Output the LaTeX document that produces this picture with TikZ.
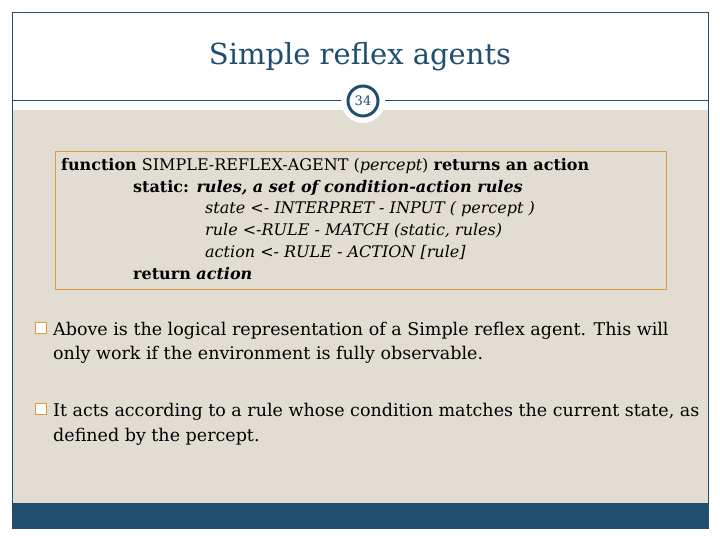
\documentclass[tikz,border=0pt]{standalone}
\usepackage{fontspec}
\setmainfont{DejaVu Serif}
\definecolor{navy}{HTML}{1F4E6E}
\definecolor{beige}{HTML}{E2DDD3}
\definecolor{orng}{HTML}{E39A3C}
\tikzset{code/.style={anchor=base west,font=\fontsize{16}{18}\selectfont,inner sep=0},
bul/.style={anchor=base west,font=\fontsize{17.5}{20}\selectfont,inner sep=0},
box/.style={draw=orng,fill=white,minimum size=11pt,inner sep=0}}
\begin{document}
\begin{tikzpicture}[x=1pt,y=-1pt]
\useasboundingbox (0,0) rectangle (720,540);
\fill[white] (0,0) rectangle (720,540);
\fill[beige] (12,110) rectangle (708,503);
\fill[navy] (12,503) rectangle (708,528);
\draw[navy,line width=0.8pt] (12,12) rectangle (708,528);
\draw[navy,line width=0.8pt] (12,100) -- (708,100);
\node[font=\fontsize{29}{32}\selectfont,text=navy] (title) at (360,57) {Simple reflex agents};
\fill[white] (363,101) circle (22);
\node[circle,draw=navy,line width=3pt,fill=white,minimum size=30pt,inner sep=0,font=\fontsize{13}{14}\selectfont,text=navy] (num) at (363,101) {34};
\node[draw=orng,fill=beige,line width=0.8pt,minimum width=611pt,minimum height=138pt,inner sep=0] (cb) at (360.5,220) {};
\node[code] (l1) at (61,171) {\textbf{function} SIMPLE-REFLEX-AGENT (\textit{percept}) \textbf{returns an action}};
\node[code] (l2) at (133,193) {\textbf{static: \textit{rules, a set of condition-action rules}}};
\node[code] (l3) at (205,214) {\textit{state <- INTERPRET - INPUT ( percept )}};
\node[code] (l4) at (205,236) {\textit{rule <-RULE - MATCH (static, rules)}};
\node[code] (l5) at (205,257) {\textit{action <- RULE - ACTION [rule]}};
\node[code] (l6) at (133,279) {\textbf{return \textit{action}}};
\node[box] (b1) at (41,328) {};
\node[bul] (t1) at (53,335) {Above is the logical representation of a Simple reflex agent. This will};
\node[bul] (t1b) at (53,359) {only work if the environment is fully observable.};
\node[box] (b2) at (41,409) {};
\node[bul] (t2) at (53,416) {It acts according to a rule whose condition matches the current state, as};
\node[bul] (t2b) at (53,441) {defined by the percept.};
\end{tikzpicture}
\end{document}
